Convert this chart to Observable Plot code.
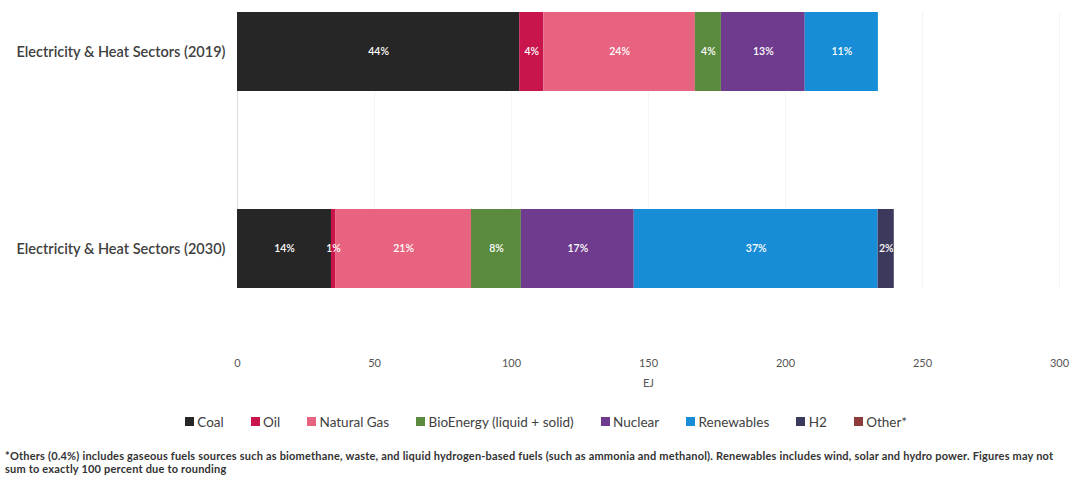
<!DOCTYPE html>
<html>
<head>
<meta charset="utf-8">
<script src="https://cdn.jsdelivr.net/npm/d3@7"></script>
<script src="https://cdn.jsdelivr.net/npm/@observablehq/plot@0.6"></script>
<style>
  body { margin: 0; background: #fff; font-family: Lato, "Open Sans", sans-serif; }
  #chart { width: 1079px; }
  #legend { width: 1039px; padding-left: 40px; display: flex; justify-content: center; margin-top: 5px; }
  #note { margin: 4px 0 0 5px; font-size: 11px; font-weight: 700; color: #333; line-height: 13px; letter-spacing: 0.2px; }
  .srcleg-swatch { margin-right: 2em !important; }
  .srcleg-swatch > svg { margin-right: 0.25em !important; }
</style>
</head>
<body>
<div id="chart"></div>
<div id="legend"></div>
<div id="note">*Others (0.4%) includes gaseous fuels sources such as biomethane, waste, and liquid hydrogen-based fuels (such as ammonia and methanol). Renewables includes wind, solar and hydro power. Figures may not<br>sum to exactly 100 percent due to rounding</div>
<script>
// Energy use of the electricity & heat sectors, EJ by source
const sectors = ["Electricity & Heat Sectors (2019)", "Electricity & Heat Sectors (2030)"];
const sources = ["Coal", "Oil", "Natural Gas", "BioEnergy (liquid + solid)", "Nuclear", "Renewables", "H2", "Other*"];
const sourceColors = ["#262626", "#c9154b", "#e8637f", "#5a8a3e", "#6f3b8e", "#168dd6", "#3b3a5c", "#8e3b3b"];
const values2019 = [103.0, 8.8, 55.3, 9.5, 30.6, 26.7, 0, 0];
const values2030 = [34.3, 1.5, 49.6, 18.2, 41.2, 89.0, 5.9, 0];
const xTicks = [0, 50, 100, 150, 200, 250, 300];

const rows = [];
[values2019, values2030].forEach((vals, i) => {
  const total = d3.sum(vals);
  vals.forEach((v, j) => {
    if (v > 0) rows.push({sector: sectors[i], source: sources[j], value: v, share: v / total});
  });
});

const chart = Plot.plot({
  width: 1079,
  height: 400,
  marginLeft: 237,
  marginRight: 20,
  marginTop: 12,
  marginBottom: 112,
  style: {fontFamily: "Lato, 'Open Sans', sans-serif", background: "#fff"},
  x: {domain: [0, 300]},
  y: {domain: sectors, paddingInner: 0.6, paddingOuter: 0},
  color: {domain: sources, range: sourceColors},
  marks: [
    Plot.ruleX(xTicks.slice(1), {stroke: "#f4f4f4", strokeWidth: 1}),
    Plot.ruleX([0], {stroke: "#dcdcdc"}),
    Plot.barX(rows, Plot.stackX({x: "value", y: "sector", fill: "source", z: "source", order: sources})),
    Plot.text(rows, Plot.stackX({
      x: "value", y: "sector", z: "source", order: sources,
      text: d => `${Math.round(d.share * 100)}%`,
      fill: "white", fontSize: 10.5, fontWeight: 600
    })),
    Plot.axisY({tickSize: 0, tickPadding: 12, fontSize: 14.5, fontWeight: 600, fill: "#404040", label: null}),
    Plot.axisX({ticks: xTicks, tickSize: 0, tickPadding: 71, fontSize: 11, fill: "#555", label: "EJ", labelAnchor: "center", labelArrow: "none", labelOffset: 98})
  ]
});
document.getElementById("chart").appendChild(chart);

const legend = Plot.legend({
  color: {domain: sources, range: sourceColors},
  swatchSize: 9,
  className: "srcleg",
  style: {fontFamily: "Lato, 'Open Sans', sans-serif", fontSize: "13.5px", color: "#404040"}
});
document.getElementById("legend").appendChild(legend);
</script>
</body>
</html>
